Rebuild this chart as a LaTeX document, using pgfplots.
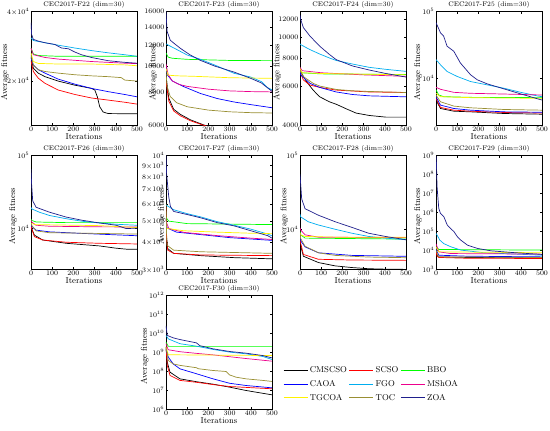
\documentclass[border=0pt]{standalone}
\usepackage{fontspec}
\usepackage{pgfplots}
\pgfplotsset{compat=1.18}
\definecolor{colTOC}{rgb}{0.6,0.56,0.2}
\definecolor{colZOA}{rgb}{0.12,0.12,0.55}
\pgfplotsset{
  cecax/.style={
    scale only axis, width=106pt, height=114pt,
    anchor=south west,
    xmin=0, xmax=500, xtick={0,100,200,300,400,500},
    yminorticks=false,
    tick align=inside, major tick length=2.2pt,
    every tick/.style={black, line width=0.4pt},
    axis line style={black, line width=0.6pt},
    tick label style={font=\fontsize{7}{8}\selectfont},
    xticklabel style={inner sep=1.5pt},
    yticklabel style={inner sep=1.5pt},
    every axis title shift=0pt,
    title style={font=\fontsize{6.7}{7}\selectfont, at={(axis description cs:0.5,1)}, anchor=south, yshift=3pt, inner sep=0pt},
    xlabel={Iterations}, ylabel={Average fitness},
    label style={font=\fontsize{8.5}{9}\selectfont},
    xlabel style={at={(axis description cs:0.5,-0.1)}, anchor=center, inner sep=0pt},
    ylabel style={anchor=center, inner sep=0pt},
    every axis plot/.append style={line width=0.7pt, no marks},
  },
  sA/.style={color=black}, sB/.style={color=red}, sC/.style={color=green},
  sD/.style={color=blue}, sE/.style={color=cyan}, sF/.style={color=magenta},
  sG/.style={color=yellow}, sH/.style={color=colTOC}, sI/.style={color=colZOA},
}
\begin{document}
\begin{tikzpicture}
\path[use as bounding box] (0pt,0pt) rectangle (550pt,431pt);

% F22
\begin{semilogyaxis}[cecax, at={(31pt,305.5pt)}, title={CEC2017-F22 (dim=30)},
  ymin=12850, ymax=40000, ytick={20000,40000}, yticklabels={$2{\times}10^4$,$4{\times}10^4$},
  ylabel style={at={(axis description cs:-0.245,0.47)}}]
\addplot[sA] coordinates {(0,25500) (11,22750) (34,21650) (66,20900) (128,20000) (207,19200) (285,18600) (301,18300) (313,17100) (324,15500) (340,14700) (364,14470) (500,14430)};
\addplot[sB] coordinates {(0,24500) (11,22000) (34,20600) (66,19560) (128,18300) (207,17500) (285,16900) (364,16550) (442,16200) (500,15900)};
\addplot[sC] coordinates {(0,27800) (11,26200) (34,25800) (128,25600) (500,25600)};
\addplot[sD] coordinates {(0,25200) (11,23500) (34,22400) (66,21650) (128,20400) (207,19400) (285,18600) (364,18000) (442,17500) (500,17100)};
\addplot[sE] coordinates {(0,30800) (11,29960) (66,29300) (128,28600) (207,27800) (285,27100) (364,26500) (442,26000) (500,25600)};
\addplot[sF] coordinates {(0,27800) (11,26000) (66,25300) (128,24900) (285,24300) (442,23900) (500,23800)};
\addplot[sG] coordinates {(0,26500) (11,24300) (34,23850) (128,23700) (285,23700) (442,23500) (500,23300)};
\addplot[sH] coordinates {(0,26000) (11,23500) (34,22400) (66,22000) (128,21650) (207,21300) (285,21070) (364,20900) (426,20700) (442,20200) (500,20000)};
\addplot[sI] coordinates {(0,35800) (3,31800) (11,30300) (34,29800) (66,29300) (113,28800) (128,28300) (144,27800) (176,27600) (207,26700) (238,26000) (285,25300) (364,24500) (442,24100) (500,23900)};
\end{semilogyaxis}

% F23
\begin{semilogyaxis}[cecax, at={(166pt,305.5pt)}, title={CEC2017-F23 (dim=30)},
  ymin=6000, ymax=16000, ytick={6000,8000,10000,12000,14000,16000}, yticklabels={6000,8000,10000,12000,14000,16000},
  ylabel style={at={(axis description cs:-0.12,0.47)}}]
\addplot[sA] coordinates {(0,9200) (13,7600) (36,6900) (68,6600) (115,6300) (185,6000) (300,5700) (500,5400)};
\addplot[sB] coordinates {(0,8800) (13,7400) (36,6800) (68,6520) (115,6250) (180,6000) (300,5650) (500,5350)};
\addplot[sC] coordinates {(0,11200) (10,10800) (30,10700) (100,10600) (300,10500) (500,10480)};
\addplot[sD] coordinates {(0,10000) (5,9300) (30,8800) (84,8380) (163,7900) (242,7565) (321,7345) (400,7180) (500,6990)};
\addplot[sE] coordinates {(0,12100) (36,11700) (100,11000) (163,10600) (242,10000) (321,9400) (400,9100) (450,8750) (480,8300) (500,8150)};
\addplot[sF] coordinates {(0,10200) (10,9300) (30,8800) (60,8550) (100,8400) (200,8200) (300,8080) (400,8030) (500,8010)};
\addplot[sG] coordinates {(0,9800) (10,9250) (50,9200) (150,9150) (300,9050) (500,9000)};
\addplot[sH] coordinates {(0,9500) (5,8400) (20,7700) (50,7300) (100,7050) (200,6850) (300,6750) (400,6700) (500,6680)};
\addplot[sI] coordinates {(0,16000) (5,13500) (20,12500) (36,12200) (68,11650) (115,11000) (163,10500) (230,10000) (321,9500) (400,9000) (450,8650) (500,8050)};
\end{semilogyaxis}

% F24
\begin{semilogyaxis}[cecax, at={(300pt,305.5pt)}, title={CEC2017-F24 (dim=30)},
  ymin=4000, ymax=13000, ytick={4000,6000,8000,10000,12000}, yticklabels={4000,6000,8000,10000,12000},
  ylabel style={at={(axis description cs:-0.215,0.47)}}]
\addplot[sA] coordinates {(0,7200) (3,6985) (31,6290) (62,5767) (93,5380) (140,5104) (171,4981) (217,4758) (264,4549) (326,4438) (404,4362) (500,4362)};
\addplot[sB] coordinates {(0,7100) (3,6865) (16,6404) (47,6077) (93,5930) (171,5767) (326,5657) (500,5627)};
\addplot[sC] coordinates {(0,7300) (5,6900) (100,6820) (500,6780)};
\addplot[sD] coordinates {(0,7000) (3,6746) (47,6185) (93,5930) (171,5657) (248,5510) (326,5435) (500,5380)};
\addplot[sE] coordinates {(0,9300) (3,9230) (47,8765) (93,8375) (140,8030) (171,7835) (248,7550) (326,7300) (404,7150) (500,7000)};
\addplot[sF] coordinates {(0,7300) (10,7050) (100,6900) (300,6750) (500,6650)};
\addplot[sG] coordinates {(0,7200) (10,6900) (100,6850) (300,6800) (500,6750)};
\addplot[sH] coordinates {(0,7100) (3,6985) (16,6630) (62,6185) (93,6013) (171,5806) (248,5727) (326,5686) (500,5627)};
\addplot[sI] coordinates {(0,12500) (3,12000) (16,11000) (47,10080) (93,9080) (140,8320) (171,7900) (248,7400) (326,7100) (404,6850) (500,6600)};
\end{semilogyaxis}

% F25
\begin{semilogyaxis}[cecax, at={(436pt,305.5pt)}, title={CEC2017-F25 (dim=30)},
  ymin=1950, ymax=100000, ytick={10000,100000},
  ylabel style={at={(axis description cs:-0.17,0.47)}}]
\addplot[sA] coordinates {(0,4695) (21,3510) (84,3195) (163,3125) (321,2950) (500,2880)};
\addplot[sB] coordinates {(0,4975) (21,3640) (84,3310) (163,3195) (321,3055) (500,3000)};
\addplot[sC] coordinates {(0,6660) (13,5590) (36,5275) (163,5155) (500,5100)};
\addplot[sD] coordinates {(0,5275) (21,3945) (84,3510) (163,3310) (321,3125) (500,3080)};
\addplot[sE] coordinates {(0,18950) (21,15900) (52,12600) (100,10600) (163,8900) (242,7930) (321,7055) (400,6130) (479,5400) (500,5275)};
\addplot[sF] coordinates {(0,7300) (21,6810) (84,6130) (163,5930) (321,5780) (500,5590)};
\addplot[sG] coordinates {(0,5930) (21,5275) (163,5100) (500,4975)};
\addplot[sH] coordinates {(0,5590) (21,4430) (84,3810) (163,3595) (321,3390) (500,3310)};
\addplot[sI] coordinates {(0,68100) (21,48000) (36,42800) (52,30200) (84,25300) (115,16900) (163,11240) (195,9435) (242,8200) (321,6900) (400,5800) (479,4900) (500,4700)};
\end{semilogyaxis}

% F26
\begin{semilogyaxis}[cecax, at={(31pt,161.5pt)}, title={CEC2017-F26 (dim=30)},
  ymin=2750, ymax=100000, ytick={10000,100000},
  ylabel style={at={(axis description cs:-0.17,0.47)}}]
\addplot[sA] coordinates {(0,12000) (3,10000) (16,8130) (55,6970) (166,6280) (323,5780) (402,5380) (449,5220) (500,5220)};
\addplot[sB] coordinates {(0,11500) (3,10000) (16,7740) (55,6970) (166,6490) (323,6280) (500,6150)};
\addplot[sC] coordinates {(0,13500) (3,12940) (24,12290) (166,12050) (500,12050)};
\addplot[sD] coordinates {(0,11500) (3,10750) (24,9510) (87,9010) (244,8570) (500,7970)};
\addplot[sE] coordinates {(0,19500) (3,18600) (39,16750) (87,15100) (166,13630) (244,12550) (323,11920) (402,11440) (500,11090)};
\addplot[sF] coordinates {(0,13000) (3,12290) (24,11090) (87,10750) (323,10550) (500,10500)};
\addplot[sG] coordinates {(0,12000) (3,11680) (24,11310) (323,10960) (500,10320)};
\addplot[sH] coordinates {(0,12000) (3,11090) (24,9300) (87,8760) (323,8570) (500,8400)};
\addplot[sI] coordinates {(0,65000) (3,40000) (8,24000) (24,19560) (87,16750) (166,14350) (244,12940) (323,11920) (402,11090) (449,10000) (500,10100)};
\end{semilogyaxis}

% F27
\begin{semilogyaxis}[cecax, at={(166pt,161.5pt)}, title={CEC2017-F27 (dim=30)},
  ymin=3000, ymax=10000, ytick={3000,4000,5000,6000,7000,8000,9000,10000},
  yticklabels={$3{\times}10^3$,$4{\times}10^3$,$5{\times}10^3$,$6{\times}10^3$,$7{\times}10^3$,$8{\times}10^3$,$9{\times}10^3$,$10^4$},
  ylabel style={at={(axis description cs:-0.04,0.47)}}]
\addplot[sA] coordinates {(0,6000) (3,4200) (8,3742) (36,3558) (163,3473) (321,3400) (500,3357)};
\addplot[sB] coordinates {(0,5800) (3,4100) (8,3680) (36,3558) (163,3497) (500,3473)};
\addplot[sC] coordinates {(0,5200) (13,5000) (100,4870) (500,4820)};
\addplot[sD] coordinates {(0,4900) (5,4650) (50,4450) (150,4350) (300,4200) (500,4080)};
\addplot[sE] coordinates {(0,5930) (36,5640) (100,5410) (163,5230) (242,4970) (321,4787) (400,4594) (479,4365) (500,4280)};
\addplot[sF] coordinates {(0,5000) (13,4625) (84,4440) (242,4290) (400,4177) (500,4120)};
\addplot[sG] coordinates {(0,4700) (5,4625) (84,4517) (242,4450) (400,4400) (500,4380)};
\addplot[sH] coordinates {(0,6000) (3,4300) (5,3873) (36,3680) (163,3618) (500,3558)};
\addplot[sI] coordinates {(0,10000) (3,8200) (13,6460) (21,5834) (36,5540) (100,5360) (163,5180) (242,4920) (321,4755) (400,4517) (479,4290) (500,4180)};
\end{semilogyaxis}

% F28
\begin{semilogyaxis}[cecax, at={(300pt,161.5pt)}, title={CEC2017-F28 (dim=30)},
  ymin=2850, ymax=100000, ytick={10000,100000},
  ylabel style={at={(axis description cs:-0.15,0.47)}}]
\addplot[sA] coordinates {(0,9000) (3,6000) (16,4310) (87,3540) (166,3190) (244,3030) (323,2920) (402,2880) (500,2860)};
\addplot[sB] coordinates {(0,9000) (3,6500) (16,4560) (87,3920) (244,3830) (500,3790)};
\addplot[sC] coordinates {(0,9500) (3,8400) (24,7590) (500,7360)};
\addplot[sD] coordinates {(0,9000) (3,7000) (24,5770) (87,4800) (244,4425) (500,4300)};
\addplot[sE] coordinates {(0,16000) (3,14730) (39,12640) (87,11420) (166,10000) (244,8850) (323,8000) (402,7590) (500,7210)};
\addplot[sF] coordinates {(0,10500) (3,9800) (24,8400) (87,7820) (323,7740) (500,7740)};
\addplot[sG] coordinates {(0,9000) (3,8400) (24,8000) (166,7820) (500,7800)};
\addplot[sH] coordinates {(0,9000) (3,7500) (24,5890) (87,4800) (166,4425) (323,4200) (500,4120)};
\addplot[sI] coordinates {(0,55400) (8,25800) (24,19000) (87,15500) (166,12640) (244,10630) (323,8850) (402,8000) (500,7210)};
\end{semilogyaxis}

% F29
\begin{semilogyaxis}[cecax, at={(436pt,161.5pt)}, title={CEC2017-F29 (dim=30)},
  ymin=1000, ymax=1e9, ytick={1e3,1e4,1e5,1e6,1e7,1e8,1e9},
  ylabel style={at={(axis description cs:-0.17,0.47)}}]
\addplot[sA] coordinates {(0,10000) (5,5500) (13,4620) (149,4300) (500,4100)};
\addplot[sB] coordinates {(0,9000) (5,5000) (13,4300) (149,3900) (500,3800)};
\addplot[sC] coordinates {(0,15800) (13,11300) (500,10500)};
\addplot[sD] coordinates {(0,12000) (13,5650) (149,5000) (500,4620)};
\addplot[sE] coordinates {(0,79000) (5,65000) (18,35000) (37,23000) (69,15800) (117,10500) (228,7600) (500,5650)};
\addplot[sF] coordinates {(0,23000) (13,8500) (69,6900) (500,6450)};
\addplot[sG] coordinates {(0,15000) (13,8500) (500,7600)};
\addplot[sH] coordinates {(0,10000) (13,4620) (500,4270)};
\addplot[sI] coordinates {(0,9.5e8) (1.6,5.9e8) (5,2.3e7) (13,1.66e6) (21,8.9e5) (37,6.0e5) (53,2.2e5) (69,1.45e5) (85,9.7e4) (101,5.3e4) (117,3.5e4) (149,1.9e4) (196,1.28e4) (260,9600) (356,7900) (500,6200)};
\end{semilogyaxis}

% F30 + legend
\begin{semilogyaxis}[cecax, at={(166pt,21.5pt)}, title={CEC2017-F30 (dim=30)},
  ymin=1e6, ymax=1e12, ytick={1e6,1e7,1e8,1e9,1e10,1e11,1e12},
  ylabel style={at={(axis description cs:-0.2,0.47)}},
  legend columns=3,
  legend cell align=left,
  legend style={draw=none, fill=none, at={(axis description cs:1.0755,0.2237)}, anchor=west,
    font=\fontsize{8.5}{9}\selectfont, row sep=2.3pt, column sep=0pt, inner xsep=3pt},
  legend image code/.code={\draw[#1] (0pt,0pt) -- (24pt,0pt);}]
\addplot[sA] coordinates {(0,2e9) (6,3.1e8) (19,9.2e7) (66,4.1e7) (144,2.9e7) (222,2.15e7) (300,1.5e7) (378,1.0e7) (500,5.9e6)};
\addplot[sB] coordinates {(0,2e9) (6,2.1e8) (19,6.2e7) (66,3.4e7) (144,2.7e7) (222,2.05e7) (300,1.62e7) (500,1.23e7)};
\addplot[sC] coordinates {(0,3.5e9) (11,2.1e9) (500,2.1e9)};
\addplot[sD] coordinates {(0,1.5e9) (11,5.7e8) (34,2.5e8) (66,1.38e8) (144,7.6e7) (222,4.1e7) (300,2.4e7) (378,1.83e7) (500,1.38e7)};
\addplot[sE] coordinates {(0,7.9e9) (11,5.2e9) (66,2.9e9) (144,2.15e9) (222,1.45e9) (300,1.05e9) (378,8.5e8) (456,6.2e8) (500,4.3e8)};
\addplot[sF] coordinates {(0,3e9) (10,1.4e9) (66,1.1e9) (144,9e8) (222,7.5e8) (300,6e8) (378,4.8e8) (500,3.5e8)};
\addplot[sG] coordinates {(0,2e9) (11,7.6e8) (500,6.9e8)};
\addplot[sH] coordinates {(0,2e9) (11,3.8e8) (34,2.5e8) (66,2.1e8) (144,1.58e8) (152,1.4e8) (222,1.13e8) (284,1.0e8) (300,6.6e7) (331,5.0e7) (378,4.1e7) (456,3.4e7) (500,3.0e7)};
\addplot[sI] coordinates {(0,2.5e10) (2,1.77e10) (6,7.9e9) (34,5.9e9) (66,4.8e9) (144,3.2e9) (159,2.3e9) (222,1.56e9) (300,1.13e9) (378,9.2e8) (456,6.9e8) (500,5.2e8)};
\legend{CMSCSO,SCSO,BBO,CAOA,FGO,MShOA,TGCOA,TOC,ZOA}
\end{semilogyaxis}
\end{tikzpicture}
\end{document}
